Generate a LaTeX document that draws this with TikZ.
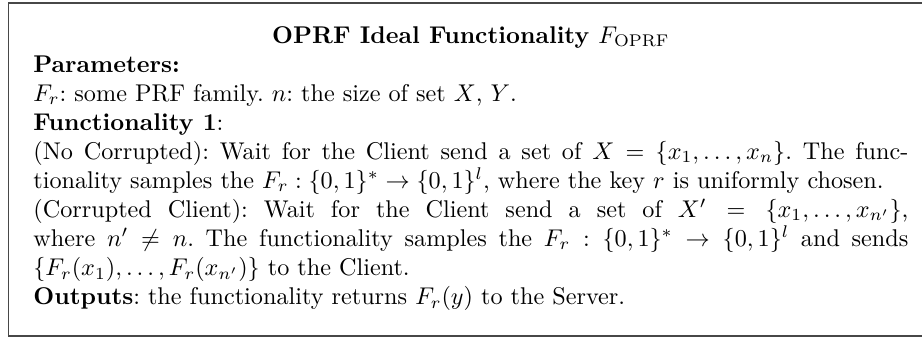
\documentclass[tikz,border=0pt]{standalone}
\usepackage{amsmath,amssymb}
\tikzset{
  frameline/.style={line width=0.55pt, black!72},
  bodytext/.style={anchor=base west, inner sep=0pt, text width=361.6pt, align=justify,
    font=\fontsize{10}{12}\selectfont\frenchspacing}
}
\begin{document}
\begin{tikzpicture}[x=1pt,y=1pt]
\useasboundingbox (0,0) rectangle (381,-139.3);
\coordinate (tr) at (381,-1.2);
\coordinate (tl) at (3.4,-1.2);
\coordinate (bl) at (3.4,-138.8);
\coordinate (br) at (381,-138.8);
\draw[frameline] (tr) -- (tl) -- (bl) -- (br);
\node[bodytext] (content) at (13.6,-17.8) {%
{\centering\textbf{OPRF Ideal Functionality $F_{\mathrm{OPRF}}$}\par}
\textbf{Parameters:}\\
$F_r$: some PRF family. $n$: the size of set $X$, $Y$.\\
\textbf{Functionality 1}:\\
(No Corrupted): Wait for the Client send a set of $X=\{x_1,\ldots,x_n\}$. The func-\linebreak
tionality samples the $F_r:\{0,1\}^*\rightarrow\{0,1\}^l$, where the key $r$ is uniformly chosen.\\
(Corrupted Client): Wait for the Client send a set of $X'=\{x_1,\ldots,x_{n'}\}$,\linebreak
where $n'\neq n$. The functionality samples the $F_r:\{0,1\}^*\rightarrow\{0,1\}^l$ and sends\linebreak
$\{F_r(x_1),\ldots,F_r(x_{n'})\}$ to the Client.\\
\textbf{Outputs}: the functionality returns $F_r(y)$ to the Server.};
\end{tikzpicture}
\end{document}
